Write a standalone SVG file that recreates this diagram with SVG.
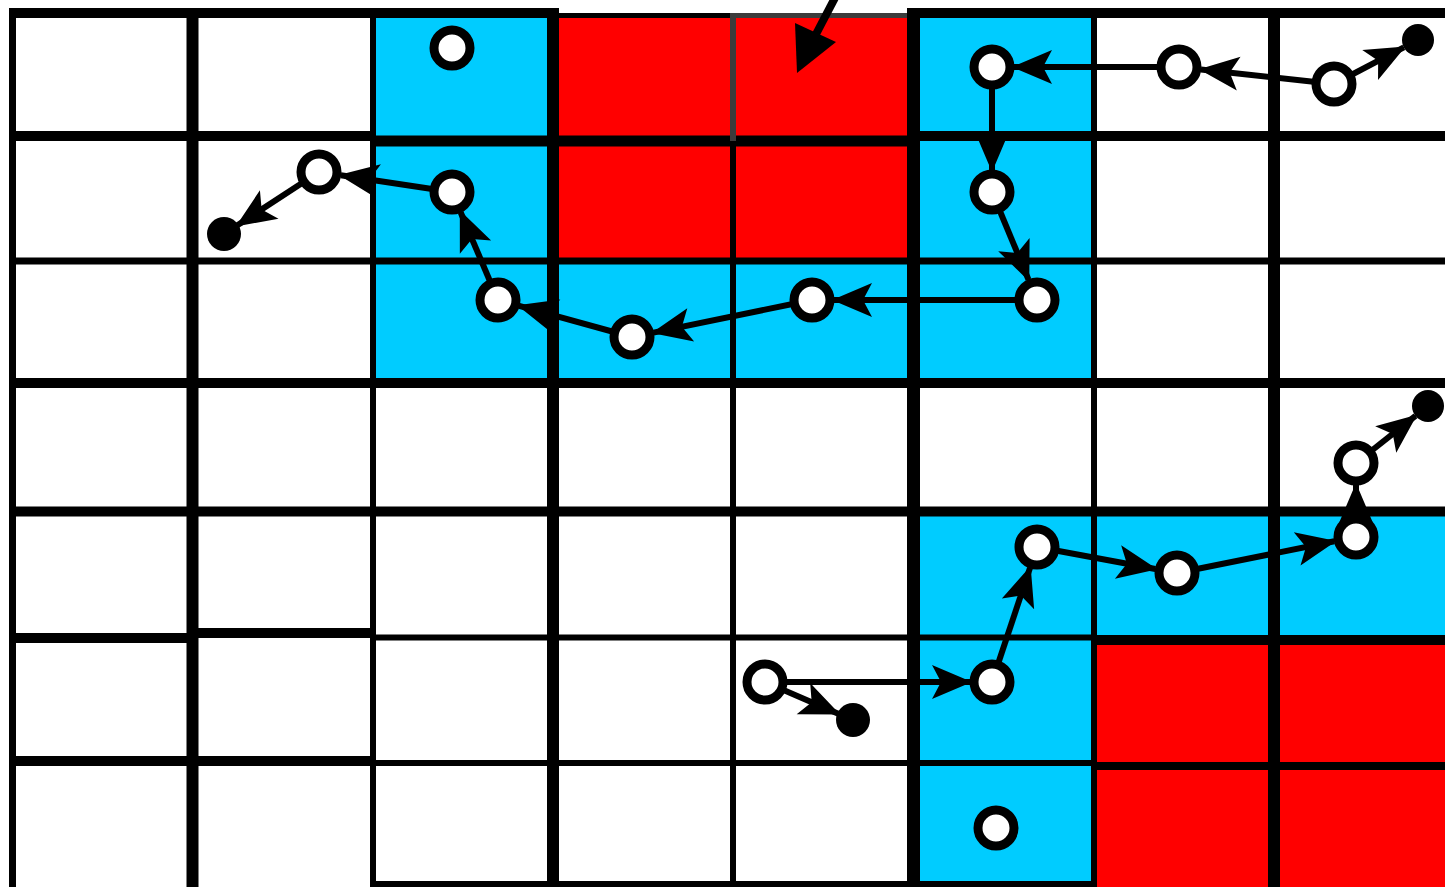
<svg xmlns="http://www.w3.org/2000/svg" width="1445" height="887" viewBox="0 0 1445 887">
<style>
.cy{fill:#00CCFF}
.rd{fill:#FF0000}
.gl{stroke:#000;fill:none}
.node{fill:#fff;stroke:#000;stroke-width:9}
.dot{fill:#000}
.edge{stroke:#000;stroke-width:6;fill:none;marker-end:url(#ah)}
</style>
<defs>
<marker id="ah" markerUnits="userSpaceOnUse" orient="auto" markerWidth="48" markerHeight="40" viewBox="-42 -20 46 40" refX="0" refY="0">
<path d="M2,0 L-38,-17 L-29,0 L-38,17 Z" fill="#000"/>
</marker>
</defs>
<rect width="1445" height="887" fill="#fff"/>
<g id="cells">
<rect class="cy" x="373" y="13" width="180" height="370"/>
<rect class="cy" x="553" y="260" width="360" height="123"/>
<rect class="cy" x="913" y="13" width="181" height="370"/>
<rect class="cy" x="913" y="511" width="532" height="126"/>
<rect class="cy" x="913" y="637" width="181" height="250"/>
<rect class="rd" x="553" y="15" width="360" height="245"/>
<rect class="rd" x="1094" y="637" width="351" height="250"/>
</g>
<g id="grid" class="gl">
<line x1="9" y1="13" x2="553" y2="13" stroke-width="10"/>
<line x1="553" y1="15.5" x2="733" y2="15.5" stroke-width="5"/>
<line x1="733" y1="15.5" x2="913" y2="15.5" stroke-width="5" stroke="#3c3c3c"/>
<line x1="913" y1="13" x2="1445" y2="13" stroke-width="10"/>
<line x1="9" y1="136" x2="373" y2="136" stroke-width="10"/>
<line x1="373" y1="141" x2="913" y2="141" stroke-width="11"/>
<line x1="913" y1="136" x2="1445" y2="136" stroke-width="10"/>
<line x1="9" y1="261" x2="1445" y2="261" stroke-width="7"/>
<line x1="9" y1="383" x2="1445" y2="383" stroke-width="10"/>
<line x1="9" y1="511.5" x2="1445" y2="511.5" stroke-width="10"/>
<line x1="9" y1="638" x2="192" y2="638" stroke-width="10"/>
<line x1="192" y1="633" x2="373" y2="633" stroke-width="10"/>
<line x1="373" y1="637.5" x2="1094" y2="637.5" stroke-width="6"/>
<line x1="1094" y1="640" x2="1445" y2="640" stroke-width="10"/>
<line x1="9" y1="761" x2="373" y2="761" stroke-width="10"/>
<line x1="373" y1="763" x2="1094" y2="763" stroke-width="6"/>
<line x1="1094" y1="766" x2="1445" y2="766" stroke-width="8"/>
<line x1="370" y1="884" x2="1097" y2="884" stroke-width="6"/>
<line x1="12.5" y1="8" x2="12.5" y2="887" stroke-width="7"/>
<line x1="192.5" y1="8" x2="192.5" y2="887" stroke-width="12"/>
<line x1="373" y1="8" x2="373" y2="887" stroke-width="6"/>
<line x1="553" y1="8" x2="553" y2="887" stroke-width="12"/>
<line x1="733" y1="141" x2="733" y2="887" stroke-width="6"/>
<line x1="733" y1="13" x2="733" y2="141" stroke-width="6" stroke="#3c3c3c"/>
<line x1="913.5" y1="8" x2="913.5" y2="887" stroke-width="13"/>
<line x1="1094" y1="8" x2="1094" y2="887" stroke-width="6"/>
<line x1="1274" y1="8" x2="1274" y2="887" stroke-width="12"/>
</g>
<g id="connectors">
<line class="edge" x1="1334" y1="84" x2="1403.8" y2="47.4"/>
<line class="edge" x1="1334" y1="84" x2="1200.9" y2="69.4"/>
<line class="edge" x1="1179" y1="67" x2="1014" y2="67"/>
<line class="edge" x1="992" y1="67" x2="992" y2="170"/>
<line class="edge" x1="992" y1="192" x2="1028.5" y2="279.7"/>
<line class="edge" x1="1037" y1="300" x2="834" y2="300"/>
<line class="edge" x1="812" y1="300" x2="653.5" y2="332.6"/>
<line class="edge" x1="632" y1="337" x2="519.2" y2="305.9"/>
<line class="edge" x1="498" y1="300" x2="460.6" y2="212.2"/>
<line class="edge" x1="452" y1="192" x2="340.8" y2="175.3"/>
<line class="edge" x1="319" y1="172" x2="237.4" y2="225.3"/>
<line class="edge" x1="765" y1="682" x2="838.3" y2="713.7"/>
<line class="edge" x1="765" y1="682" x2="970" y2="682"/>
<line class="edge" x1="992" y1="682" x2="1030" y2="567.9"/>
<line class="edge" x1="1037" y1="547" x2="1155.4" y2="569"/>
<line class="edge" x1="1177" y1="573" x2="1334.4" y2="541.3"/>
<line class="edge" x1="1356" y1="537" x2="1356" y2="485"/>
<line class="edge" x1="1356" y1="463" x2="1415.5" y2="415.9"/>
<line x1="838" y1="-8" x2="814" y2="38" stroke="#000" stroke-width="8"/>
<polygon points="797,73 795,23 836,42" fill="#000"/>
</g>
<g id="n1"><circle class="node" cx="452" cy="48" r="18"/></g>
<g id="n2"><circle class="node" cx="452" cy="192" r="18"/></g>
<g id="n3"><circle class="node" cx="319" cy="172" r="18"/></g>
<g id="d1"><circle class="dot" cx="224" cy="234" r="17"/></g>
<g id="n5"><circle class="node" cx="498" cy="300" r="18"/></g>
<g id="n6"><circle class="node" cx="632" cy="337" r="18"/></g>
<g id="n7"><circle class="node" cx="812" cy="300" r="18"/></g>
<g id="n8"><circle class="node" cx="1037" cy="300" r="18"/></g>
<g id="n9"><circle class="node" cx="992" cy="192" r="18"/></g>
<g id="n10"><circle class="node" cx="992" cy="67" r="18"/></g>
<g id="n11"><circle class="node" cx="1179" cy="67" r="18"/></g>
<g id="n12"><circle class="node" cx="1334" cy="84" r="18"/></g>
<g id="d2"><circle class="dot" cx="1418" cy="40" r="16"/></g>
<g id="n14"><circle class="node" cx="1356" cy="463" r="18"/></g>
<g id="d3"><circle class="dot" cx="1428" cy="406" r="16"/></g>
<g id="n16"><circle class="node" cx="1356" cy="537" r="18"/></g>
<g id="n17"><circle class="node" cx="1177" cy="573" r="18"/></g>
<g id="n18"><circle class="node" cx="1037" cy="547" r="18"/></g>
<g id="n19"><circle class="node" cx="992" cy="682" r="18"/></g>
<g id="n20"><circle class="node" cx="765" cy="682" r="18"/></g>
<g id="d4"><circle class="dot" cx="853" cy="720" r="17"/></g>
<g id="n22"><circle class="node" cx="996" cy="828" r="18"/></g>
</svg>
